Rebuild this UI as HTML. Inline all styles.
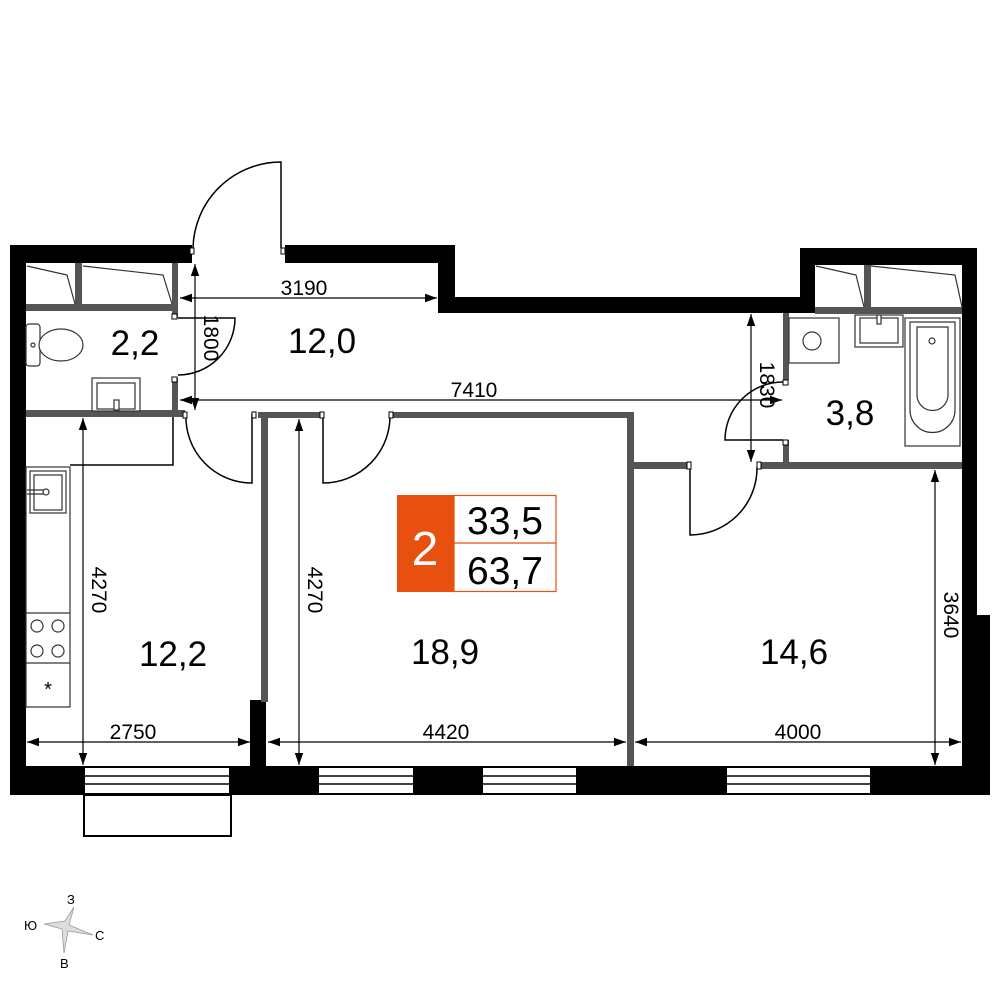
<!DOCTYPE html>
<html><head><meta charset="utf-8"><style>html,body{margin:0;padding:0;background:#fff}svg{display:block}</style></head>
<body>
<svg width="1000" height="1000" viewBox="0 0 1000 1000" xmlns="http://www.w3.org/2000/svg" font-family="Liberation Sans, DejaVu Sans, sans-serif">
<defs>
<marker id="b" viewBox="0 0 10 10" refX="10" refY="5" markerWidth="16" markerHeight="12" orient="auto-start-reverse" markerUnits="userSpaceOnUse"><path d="M0,1.5 L10,5 L0,8.5 z" fill="#000"/></marker></defs>
<g fill="#000">
<rect x="10" y="245" width="16" height="550"/>
<rect x="10" y="245" width="182" height="18"/>
<rect x="285" y="245" width="170" height="18"/>
<rect x="438" y="245" width="17" height="68"/>
<rect x="438" y="297" width="377" height="16"/>
<rect x="800" y="248" width="15" height="65"/>
<rect x="800" y="248" width="177" height="17"/>
<rect x="962" y="248" width="15" height="547"/>
<rect x="962" y="615" width="28" height="180"/>
<rect x="10" y="766" width="980" height="29"/>
<rect x="250" y="700" width="16" height="66"/>
</g>
<g fill="#fff" stroke="#000" stroke-width="2">
<rect x="84" y="767" width="146" height="27"/>
<rect x="318" y="767" width="96" height="27"/>
<rect x="482" y="767" width="95" height="27"/>
<rect x="726" y="767" width="145" height="27"/>
<rect x="84" y="795" width="147" height="41" fill="none"/>
</g>
<g stroke="#000" stroke-width="1.5" fill="none">
<path d="M84,776H230M84,784H230M318,776H414M318,784H414M482,776H577M482,784H577M726,776H871M726,784H871"/>
</g>
<g fill="#555">
<rect x="26" y="304" width="150" height="7"/>
<rect x="75" y="263" width="7" height="45"/>
<rect x="172" y="263" width="6" height="55"/>
<rect x="172" y="378" width="6" height="36"/>
<rect x="26" y="410" width="159" height="7"/>
<rect x="258" y="412" width="65" height="6"/>
<rect x="261" y="412" width="7" height="290"/>
<rect x="390" y="412" width="244" height="6"/>
<rect x="627" y="412" width="7" height="354"/>
<rect x="634" y="462" width="56" height="7"/>
<rect x="757" y="462" width="205" height="7"/>
<rect x="783" y="313" width="6" height="67"/>
<rect x="783" y="440" width="6" height="25"/>
<rect x="815" y="307" width="147" height="7"/>
<rect x="864" y="265" width="7" height="44"/>
</g>
<g stroke="#333" stroke-width="1.2" fill="none">
<path d="M27,266L67,275L75,304M83,266L163,275L172,304M816,266L856,275L864,307M871,266L955,275L962,307"/>
</g>
<g stroke="#000" stroke-width="1.5" fill="none">
<path d="M281,248V162A88,88 0 0 0 193,248"/>
<path d="M178,318H235A57,57 0 0 1 178,375"/>
<path d="M252,414V483A66,66 0 0 1 186,414"/>
<path d="M323,414V483A67,67 0 0 0 390,414"/>
<path d="M783,440H725A58,58 0 0 1 783,382"/>
<path d="M690,467V535A67,67 0 0 0 757,467"/>
<path d="M173,417V465H70"/>
</g>
<g fill="#fff" stroke="#000" stroke-width="1"><rect x="190" y="248" width="4" height="6"/><rect x="281" y="248" width="4" height="6"/><rect x="172" y="314" width="5" height="5"/><rect x="172" y="377" width="5" height="5"/><rect x="183" y="412" width="4" height="6"/><rect x="252" y="412" width="4" height="6"/><rect x="320" y="412" width="4" height="6"/><rect x="389" y="412" width="4" height="6"/><rect x="783" y="380" width="5" height="5"/><rect x="783" y="440" width="5" height="5"/><rect x="687" y="462" width="4" height="7"/><rect x="757" y="462" width="4" height="7"/></g>
<g stroke="#333" stroke-width="1.2" fill="#fff">
<rect x="26" y="324" width="14" height="42" rx="3"/>
<ellipse cx="61" cy="345" rx="22" ry="16"/>
<circle cx="33" cy="345" r="2"/>
<rect x="92" y="378" width="48" height="33"/><rect x="97" y="383" width="38" height="26"/><rect x="114" y="400" width="5" height="10"/>
<rect x="26" y="467" width="44" height="240" fill="none"/>
<rect x="30" y="471" width="36" height="42"/><rect x="34" y="475" width="28" height="35"/>
<path d="M27,490H44M27,494H44" fill="none"/><circle cx="46" cy="492" r="3"/>
<path d="M26,613H70M26,663H70" fill="none"/>
<circle cx="37" cy="626" r="6"/><circle cx="58" cy="626" r="6"/><circle cx="37" cy="651" r="6"/><circle cx="58" cy="651" r="6"/>
<rect x="789" y="318" width="50" height="45"/><circle cx="812" cy="341" r="9"/>
<rect x="855" y="315" width="48" height="32"/><rect x="860" y="318" width="38" height="25"/><rect x="877" y="315" width="4" height="9"/>
<rect x="905" y="318" width="55" height="128"/>
<path d="M910,322H955V410A22,22 0 0 1 910,410Z"/><path d="M917,327H948V395A15,15 0 0 1 917,395Z"/><circle cx="932" cy="341" r="3"/>
</g>
<text x="48" y="696" font-size="20" text-anchor="middle">*</text>
<g stroke="#000" stroke-width="1.2" fill="none">
<line x1="180" y1="298" x2="437" y2="298" marker-start="url(#b)" marker-end="url(#b)"/>
<line x1="195" y1="264" x2="195" y2="410" marker-start="url(#b)" marker-end="url(#b)"/>
<line x1="180" y1="400" x2="782" y2="400" marker-start="url(#b)" marker-end="url(#b)"/>
<line x1="751" y1="314" x2="751" y2="462" marker-start="url(#b)" marker-end="url(#b)"/>
<line x1="83" y1="418" x2="83" y2="765" marker-start="url(#b)" marker-end="url(#b)"/>
<line x1="299" y1="419" x2="299" y2="765" marker-start="url(#b)" marker-end="url(#b)"/>
<line x1="935" y1="470" x2="935" y2="765" marker-start="url(#b)" marker-end="url(#b)"/>
<line x1="27" y1="742" x2="250" y2="742" marker-start="url(#b)" marker-end="url(#b)"/>
<line x1="268" y1="742" x2="626" y2="742" marker-start="url(#b)" marker-end="url(#b)"/>
<line x1="635" y1="742" x2="961" y2="742" marker-start="url(#b)" marker-end="url(#b)"/>
</g>
<g font-size="21" fill="#000">
<text x="304" y="295" text-anchor="middle">3190</text>
<text x="474" y="397" text-anchor="middle">7410</text>
<text x="133" y="739" text-anchor="middle">2750</text>
<text x="446" y="739" text-anchor="middle">4420</text>
<text x="798" y="739" text-anchor="middle">4000</text>
<text transform="translate(198,338) rotate(90)" text-anchor="middle" dy="-6">1800</text>
<text transform="translate(754,385) rotate(90)" text-anchor="middle" dy="-6">1830</text>
<text transform="translate(86,590) rotate(90)" text-anchor="middle" dy="-6">4270</text>
<text transform="translate(302,590) rotate(90)" text-anchor="middle" dy="-6">4270</text>
<text transform="translate(938,615) rotate(90)" text-anchor="middle" dy="-6">3640</text>
</g>
<g font-size="35" fill="#000" text-anchor="middle">
<text x="135" y="355">2,2</text>
<text x="322" y="353">12,0</text>
<text x="850" y="425">3,8</text>
<text x="173" y="666">12,2</text>
<text x="445" y="664">18,9</text>
<text x="794" y="664">14,6</text>
</g>
<rect x="397" y="495" width="57" height="97" fill="#e8500f"/>
<rect x="454" y="495.5" width="102" height="96" fill="#fff" stroke="#e8500f" stroke-width="1.2"/>
<line x1="454" y1="543" x2="556" y2="543" stroke="#e8500f" stroke-width="1.2"/>
<text x="425" y="565" font-size="48" fill="#fff" text-anchor="middle">2</text>
<text x="505" y="534" font-size="39" text-anchor="middle">33,5</text>
<text x="505" y="584" font-size="39" text-anchor="middle">63,7</text>
<path d="M74,907L69,925L93,935L68,931L64,953L62,929L44,924L65,921Z" fill="#ddd" stroke="#999" stroke-width="0.8"/>
<g font-size="13" fill="#000"><text x="67" y="904">З</text><text x="24" y="930">Ю</text><text x="95" y="940">С</text><text x="60" y="968">В</text></g>
</svg>
</body></html>
